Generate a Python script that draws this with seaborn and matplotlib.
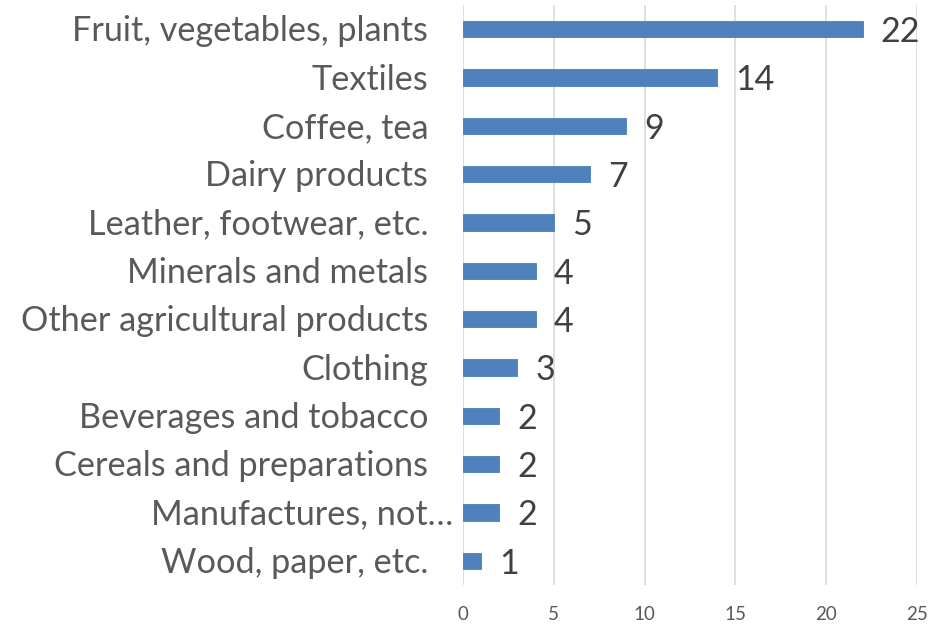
import matplotlib
matplotlib.use("Agg")
import matplotlib.pyplot as plt
import matplotlib.transforms as mtransforms
import seaborn as sns
import pandas as pd

categories = [
    "Fruit, vegetables, plants",
    "Textiles",
    "Coffee, tea",
    "Dairy products",
    "Leather, footwear, etc.",
    "Minerals and metals",
    "Other agricultural products",
    "Clothing",
    "Beverages and tobacco",
    "Cereals and preparations",
    "Manufactures, not\u2026",
    "Wood, paper, etc.",
]
values = [22, 14, 9, 7, 5, 4, 4, 3, 2, 2, 2, 1]
x_ticks = [0, 5, 10, 15, 20, 25]

df = pd.DataFrame({"category": categories, "value": values})

sns.set_theme(style="white")
plt.rcParams["font.family"] = ["Lato", "DejaVu Sans"]

fig = plt.figure(figsize=(9.29, 6.27), dpi=100)
ax = fig.add_axes([463 / 929, 1 - 585 / 627, (917 - 463) / 929, (585 - 5) / 627])

sns.barplot(data=df, y="category", x="value", orient="h", color="#4f81bd",
            width=0.34, saturation=1, ax=ax, edgecolor="#4a7ebb", linewidth=0.6)

ax.set_xlim(0, 25)
ax.set_ylim(len(categories) - 0.5, -0.5)
ax.set_xticks(x_ticks)
ax.set_xticklabels([str(t) for t in x_ticks], fontsize=13.5, color="#595959")
ax.tick_params(axis="x", length=0, pad=15)
ax.set_yticks(range(len(categories)))
ax.set_yticklabels([])
ax.tick_params(axis="y", length=0)
ax.set_xlabel("")
ax.set_ylabel("")

# category labels, right-aligned left of the axis (truncated label sits closer)
label_tr = mtransforms.blended_transform_factory(ax.transAxes, ax.transData)
for i, name in enumerate(categories):
    off = -7 if name.endswith("\u2026") else -25
    ax.annotate(name, xy=(0, i), xycoords=label_tr, xytext=(off, -1.5),
                textcoords="offset points", ha="right", va="center",
                fontsize=24.7, color="#595959", annotation_clip=False)

for s in ax.spines.values():
    s.set_visible(False)
ax.grid(axis="x", color="#d9d9d9", linewidth=1.2)
ax.set_axisbelow(True)

for i, v in enumerate(values):
    ax.annotate(str(v), xy=(v, i), xytext=(13, -2), textcoords="offset points",
                va="center", ha="left", fontsize=24.5, color="#404040")

fig.savefig("out.png", dpi=100, facecolor="white")
